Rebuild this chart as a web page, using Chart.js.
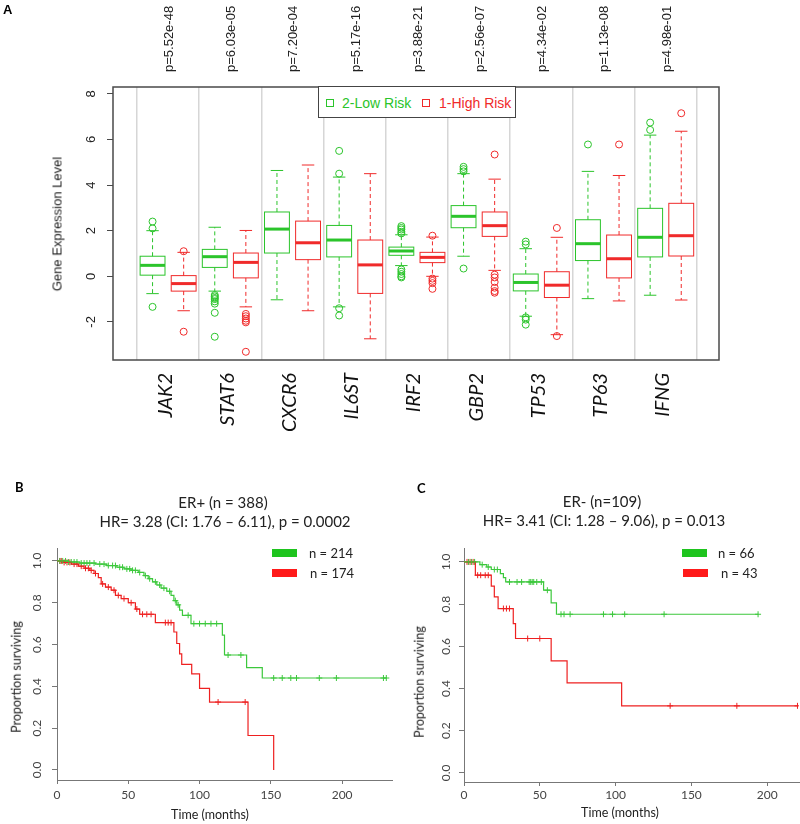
<!DOCTYPE html>
<html>
<head>
<meta charset="utf-8">
<script src="https://cdn.jsdelivr.net/npm/chart.js@4.4.0/dist/chart.umd.min.js"></script>
<style>
  body { margin: 0; background: #fff; }
  #page { position: relative; width: 800px; height: 824px; overflow: hidden; font-family: "Liberation Sans", Arial, sans-serif; }
  canvas { position: absolute; }
  .t { position: absolute; white-space: nowrap; line-height: 1; }
  .c { transform: translate(-50%, -50%); }
  .rot { transform: translate(-50%, -50%) rotate(-90deg); }
  .lato { font-family: Lato, "Noto Sans", sans-serif; }
  .sq { position: absolute; width: 6px; height: 6px; border: 1px solid; }
  .bar { position: absolute; width: 25px; height: 8px; }
</style>
</head>
<body>
<div id="page">
  <canvas id="boxCanvas" width="800" height="470" style="left:0;top:0"></canvas>
  <canvas id="kmB" width="400" height="354" style="left:0;top:470px"></canvas>
  <canvas id="kmC" width="400" height="354" style="left:400px;top:470px"></canvas>

  <!-- panel A -->
  <div class="t" style="left:3px;top:3px;font-weight:bold;font-size:13px">A</div>
  <div class="t rot" style="left:57px;top:224px;font-size:13px;color:#222">Gene Expression Level</div>
  <div style="position:absolute;left:318px;top:86px;width:196px;height:30px;border:1.5px solid #444;background:#fff"></div>
  <div class="sq" style="left:326px;top:99px;border-color:#2bc42b"></div>
  <div class="t" style="left:342px;top:96px;font-size:14px;color:#2bc42b">2-Low Risk</div>
  <div class="sq" style="left:422px;top:99px;border-color:#f02a2a"></div>
  <div class="t" style="left:439px;top:96px;font-size:14px;color:#f02a2a">1-High Risk</div>

  <!-- panel B -->
  <div class="t lato" style="left:15px;top:481px;font-weight:bold;font-size:13px">B</div>
  <div class="t lato c" style="left:223px;top:502px;font-size:15px;color:#222">ER+ (n = 388)</div>
  <div class="t lato c" style="left:225px;top:521px;font-size:15px;color:#222">HR= 3.28 (CI: 1.76 – 6.11), p = 0.0002</div>
  <div class="bar" style="left:272px;top:549px;background:#1ec41e"></div>
  <div class="t lato" style="left:309px;top:547px;font-size:13px;color:#222">n = 214</div>
  <div class="bar" style="left:272px;top:569px;background:#ff1a1a"></div>
  <div class="t lato" style="left:310px;top:567px;font-size:13px;color:#222">n = 174</div>
  <div class="t lato rot" style="left:17px;top:677px;font-size:12.5px;color:#222">Proportion surviving</div>
  <div class="t lato c" style="left:210px;top:815px;font-size:12.5px;color:#222">Time (months)</div>

  <!-- panel C -->
  <div class="t lato" style="left:417px;top:482px;font-weight:bold;font-size:13px">C</div>
  <div class="t lato c" style="left:602px;top:501px;font-size:15px;color:#222">ER- (n=109)</div>
  <div class="t lato c" style="left:604px;top:520px;font-size:15px;color:#222">HR= 3.41 (CI: 1.28 – 9.06), p = 0.013</div>
  <div class="bar" style="left:682px;top:549px;background:#1ec41e"></div>
  <div class="t lato" style="left:718px;top:547px;font-size:13px;color:#222">n = 66</div>
  <div class="bar" style="left:683px;top:569px;background:#ff1a1a"></div>
  <div class="t lato" style="left:721px;top:567px;font-size:13px;color:#222">n = 43</div>
  <div class="t lato rot" style="left:420px;top:682px;font-size:12.5px;color:#222">Proportion surviving</div>
  <div class="t lato c" style="left:620px;top:813px;font-size:12.5px;color:#222">Time (months)</div>
</div>

<script>
// ---- Panel A: gene expression boxplots ----
const genes = ['JAK2', 'STAT6', 'CXCR6', 'IL6ST', 'IRF2', 'GBP2', 'TP53', 'TP63', 'IFNG'];
const pValues = ['p=5.52e-48', 'p=6.03e-05', 'p=7.20e-04', 'p=5.17e-16', 'p=3.88e-21',
                 'p=2.56e-07', 'p=4.34e-02', 'p=1.13e-08', 'p=4.98e-01'];
const boxYTicks = [-2, 0, 2, 4, 6, 8];

// 2-Low Risk (green)
const lowMin = [-0.76, -0.65, -1.03, -1.34, 0.47, 0.88, -1.75, -0.98, -0.83];
const lowQ1  = [0.05, 0.39, 1.02, 0.85, 0.92, 2.13, -0.64, 0.69, 0.85];
const lowMed = [0.48, 0.86, 2.07, 1.59, 1.11, 2.63, -0.27, 1.43, 1.71];
const lowQ3  = [0.88, 1.18, 2.82, 2.23, 1.28, 3.10, 0.10, 2.48, 2.98];
const lowMax = [2.00, 2.15, 4.64, 4.35, 1.82, 4.50, 1.21, 4.60, 6.19];
const lowOutliers = [
  [2.1, 2.4, -1.34],
  [-0.82, -0.88, -0.95, -1.0, -1.1, -1.2, -1.6, -2.65],
  [],
  [4.5, 5.5, -1.4, -1.72],
  [1.88, 1.95, 2.05, 2.12, 2.2, 0.3, 0.2, 0.1, 0.0, -0.05],
  [4.6, 4.7, 4.8, 0.34],
  [1.4, 1.52, -1.8, -1.9, -2.12],
  [5.78],
  [6.42, 6.74]
];

// 1-High Risk (red)
const highMin = [-1.51, -1.34, -1.51, -2.74, 0.00, 0.26, -2.56, -1.08, -1.04];
const highQ1  = [-0.65, -0.07, 0.73, -0.75, 0.60, 1.75, -0.93, -0.07, 0.89];
const highMed = [-0.32, 0.61, 1.47, 0.50, 0.83, 2.22, -0.39, 0.77, 1.78];
const highQ3  = [0.03, 1.02, 2.42, 1.59, 1.05, 2.82, 0.20, 1.81, 3.20];
const highMax = [1.05, 2.01, 4.88, 4.50, 1.72, 4.26, 1.71, 4.42, 6.36];
const highOutliers = [
  [1.1, -2.43],
  [-1.65, -1.75, -1.85, -1.95, -2.02, -3.31],
  [],
  [],
  [1.78, -0.1, -0.2, -0.3, -0.55],
  [5.34, 0.07, -0.05, -0.25, -0.5, -0.65, -0.72],
  [2.12, -2.62],
  [5.78],
  [7.15]
];

// ---- Panels B / C: Kaplan-Meier curves ----
const kmXTicks = [0, 50, 100, 150, 200];
const kmYTicks = [0, 0.2, 0.4, 0.6, 0.8, 1.0];

// ER+ low risk (n = 214)
const bLowTimes = [0, 8, 16, 27, 35, 42, 47, 52, 57, 61, 64, 67, 70, 73, 77, 80, 82, 84, 86, 88, 94, 116, 117.5, 133, 144, 231];
const bLowSurv  = [1, 0.995, 0.99, 0.985, 0.978, 0.97, 0.962, 0.955, 0.945, 0.93, 0.915, 0.9, 0.885, 0.87, 0.855, 0.835, 0.81, 0.79, 0.765, 0.74, 0.70, 0.645, 0.55, 0.49, 0.44, 0.44];
const bLowCensor = [2, 4, 6, 8, 10, 12, 14, 17, 19, 21, 23, 26, 30, 33, 36, 39, 41, 44, 46, 49, 51, 53, 55, 58, 62, 65, 69, 72, 75, 79, 83, 85, 92, 96, 100, 104, 108, 112, 120, 129, 152, 158, 164, 168, 184, 196, 229, 231];
// ER+ high risk (n = 174)
const bHighTimes = [0, 5, 10, 15, 19, 23, 26, 29, 31, 34, 38, 41, 45, 50, 55, 58, 69, 82, 84, 86, 87.5, 94.5, 100, 107, 134, 152];
const bHighSurv  = [1, 0.993, 0.985, 0.975, 0.965, 0.955, 0.94, 0.92, 0.89, 0.875, 0.86, 0.835, 0.82, 0.80, 0.77, 0.745, 0.705, 0.66, 0.605, 0.555, 0.505, 0.46, 0.39, 0.325, 0.165, 0];
const bHighCensor = [2, 3, 5, 7, 9, 12, 14, 17, 20, 22, 24, 27, 32, 36, 40, 43, 47, 52, 56, 60, 63, 66, 76, 78, 80, 113, 132];

// ER- low risk (n = 66)
const cLowTimes = [0, 10.5, 15, 18, 24, 26, 27.5, 52.5, 57.5, 61, 194];
const cLowSurv  = [1, 0.987, 0.976, 0.964, 0.945, 0.926, 0.905, 0.866, 0.806, 0.752, 0.752];
const cLowCensor = [3, 5, 7, 12, 16, 20, 22, 30, 35, 38, 43, 44, 45, 46, 48, 51, 55, 64, 66, 70, 92, 98, 106, 132, 194];
// ER- high risk (n = 43)
const cHighTimes = [0, 7.5, 18, 20, 22.5, 32.5, 34, 57.5, 68, 104, 220];
const cHighSurv  = [1, 0.937, 0.885, 0.834, 0.779, 0.708, 0.637, 0.531, 0.427, 0.318, 0.318];
const cHighCensor = [2, 4, 6, 9, 11, 14, 16, 26, 28, 30, 42, 50, 136, 180, 220];

const GREEN = '#2bc42b';
const RED = '#f02a2a';
const KM_GREEN = '#3cc83c';
const KM_RED = '#ee2020';

Chart.defaults.font.family = '"Liberation Sans", Arial, sans-serif';
Chart.defaults.animation = false;

// boxes, whiskers and medians drawn through the chart scales
const boxPlugin = {
  id: 'boxplot',
  beforeDatasetsDraw(chart) {
    const { ctx, scales: { x, y } } = chart;
    const groups = [
      { color: GREEN, shift: -0.25, min: lowMin, q1: lowQ1, med: lowMed, q3: lowQ3, max: lowMax },
      { color: RED, shift: 0.25, min: highMin, q1: highQ1, med: highMed, q3: highQ3, max: highMax }
    ];
    const line = (x1, y1, x2, y2) => { ctx.beginPath(); ctx.moveTo(x1, y1); ctx.lineTo(x2, y2); ctx.stroke(); };
    ctx.save();
    groups.forEach(g => {
      ctx.strokeStyle = g.color;
      genes.forEach((name, i) => {
        const cx = x.getPixelForValue(i + 1 + g.shift);
        const half = x.getPixelForValue(i + 1 + g.shift + 0.2) - cx;
        const yMin = y.getPixelForValue(g.min[i]);
        const yQ1 = y.getPixelForValue(g.q1[i]);
        const yMed = y.getPixelForValue(g.med[i]);
        const yQ3 = y.getPixelForValue(g.q3[i]);
        const yMax = y.getPixelForValue(g.max[i]);
        ctx.lineWidth = 1;
        ctx.setLineDash([4, 3]);
        line(cx, yQ3, cx, yMax);
        line(cx, yQ1, cx, yMin);
        ctx.setLineDash([]);
        line(cx - half / 2, yMax, cx + half / 2, yMax);
        line(cx - half / 2, yMin, cx + half / 2, yMin);
        ctx.strokeRect(cx - half, yQ3, 2 * half, yQ1 - yQ3);
        ctx.lineWidth = 3;
        line(cx - half, yMed, cx + half, yMed);
      });
    });
    ctx.restore();
  },
  afterDraw(chart) {
    const { ctx, chartArea: a } = chart;
    ctx.save();
    ctx.strokeStyle = '#4a4a4a';
    ctx.lineWidth = 1.5;
    ctx.strokeRect(a.left, a.top, a.right - a.left, a.bottom - a.top);
    ctx.restore();
  }
};

function outlierPoints(lists, shift) {
  const pts = [];
  lists.forEach((vals, i) => vals.forEach(v => pts.push({ x: i + 1 + shift, y: v })));
  return pts;
}

const geneTicks = s => { s.ticks = genes.map((g, i) => ({ value: i + 1 })); };

new Chart(document.getElementById('boxCanvas'), {
  type: 'scatter',
  data: {
    datasets: [
      { label: '2-Low Risk', data: outlierPoints(lowOutliers, -0.25), borderColor: GREEN,
        backgroundColor: 'rgba(0,0,0,0)', pointRadius: 3.5, borderWidth: 1 },
      { label: '1-High Risk', data: outlierPoints(highOutliers, 0.25), borderColor: RED,
        backgroundColor: 'rgba(0,0,0,0)', pointRadius: 3.5, borderWidth: 1 }
    ]
  },
  options: {
    responsive: false,
    layout: { autoPadding: false, padding: { left: 40, right: 81, top: 0, bottom: 0 } },
    plugins: { legend: { display: false }, tooltip: { enabled: false } },
    scales: {
      x: {
        type: 'linear', position: 'bottom', min: 0.114, max: 9.857,
        afterBuildTicks: geneTicks,
        afterFit: s => { s.height = 110; },
        grid: { offset: true, drawTicks: false, color: '#d6d6d6', lineWidth: 1.5 },
        border: { display: false },
        ticks: {
          autoSkip: false, minRotation: 90, maxRotation: 90, padding: 13, labelOffset: -3, color: '#111',
          font: { family: 'Lato', style: 'italic', size: 20 },
          callback: (v, i) => genes[i]
        }
      },
      x2: {
        type: 'linear', position: 'top', min: 0.114, max: 9.857,
        afterBuildTicks: geneTicks,
        afterFit: s => { s.height = 87; },
        grid: { display: false },
        border: { display: false },
        ticks: {
          autoSkip: false, minRotation: 90, maxRotation: 90, padding: 7, labelOffset: 17, color: '#222',
          font: { size: 13 },
          callback: (v, i) => pValues[i]
        }
      },
      y: {
        min: -3.67, max: 8.30,
        afterBuildTicks: s => { s.ticks = boxYTicks.map(v => ({ value: v })); },
        afterFit: s => { s.width = 73; },
        grid: { drawOnChartArea: false, tickLength: 6, color: '#4a4a4a' },
        border: { display: false },
        ticks: { minRotation: 90, maxRotation: 90, crossAlign: 'center', padding: 10, color: '#222', font: { size: 13 } }
      }
    }
  },
  plugins: [boxPlugin]
});

// ---- KM helpers ----
function stepPoints(times, surv) {
  return times.map((t, i) => ({ x: t, y: surv[i] }));
}
function survAt(times, surv, t) {
  let s = surv[0];
  times.forEach((tt, i) => { if (tt <= t) s = surv[i]; });
  return s;
}
function censorPoints(times, surv, cens) {
  return cens.map(t => ({ x: t, y: survAt(times, surv, t) }));
}

function kmChart(id, cfg) {
  const lineDs = (pts, color) => ({ type: 'line', data: pts, borderColor: color, borderWidth: 1.2,
    stepped: true, pointRadius: 0, fill: false });
  const censDs = (pts, color) => ({ type: 'scatter', data: pts, borderColor: color, backgroundColor: color,
    pointStyle: 'cross', pointRadius: 3, borderWidth: 1 });
  return new Chart(document.getElementById(id), {
    type: 'line',
    data: {
      datasets: [
        lineDs(stepPoints(cfg.lowT, cfg.lowS), KM_GREEN),
        lineDs(stepPoints(cfg.highT, cfg.highS), KM_RED),
        censDs(censorPoints(cfg.lowT, cfg.lowS, cfg.lowC), KM_GREEN),
        censDs(censorPoints(cfg.highT, cfg.highS, cfg.highC), KM_RED)
      ]
    },
    options: {
      responsive: false,
      layout: { autoPadding: false, padding: { left: 0, right: cfg.right, top: cfg.top, bottom: 0 } },
      plugins: { legend: { display: false }, tooltip: { enabled: false } },
      scales: {
        x: {
          type: 'linear', min: 0, max: cfg.xMax,
          afterBuildTicks: s => { s.ticks = kmXTicks.map(v => ({ value: v })); },
          afterFit: s => { s.height = cfg.xAxisH; },
          grid: { drawOnChartArea: false, tickLength: 4, color: '#777' },
          border: { display: true, color: '#777', width: 1 },
          ticks: { padding: cfg.xPad, color: '#444', font: { family: 'Lato', size: 12 } }
        },
        y: {
          type: 'linear', min: cfg.yMin, max: cfg.yMax,
          afterBuildTicks: s => { s.ticks = kmYTicks.map(v => ({ value: v })); },
          afterFit: s => { s.width = cfg.yAxisW; },
          grid: { drawOnChartArea: false, tickLength: 5, color: '#777' },
          border: { display: true, color: '#777', width: 1 },
          ticks: { minRotation: 90, maxRotation: 90, crossAlign: 'center', padding: cfg.yPad,
            color: '#444', font: { family: 'Lato', size: 12 }, callback: v => v.toFixed(1) }
        }
      }
    }
  });
}

kmChart('kmB', {
  lowT: bLowTimes, lowS: bLowSurv, lowC: bLowCensor,
  highT: bHighTimes, highS: bHighSurv, highC: bHighCensor,
  right: 8, top: 78, xAxisH: 44, yAxisW: 57,
  xMax: 235, yMin: -0.048, yMax: 1.062, xPad: 4, yPad: 6.5
});

kmChart('kmC', {
  lowT: cLowTimes, lowS: cLowSurv, lowC: cLowCensor,
  highT: cHighTimes, highS: cHighSurv, highC: cHighCensor,
  right: 1, top: 78, xAxisH: 42, yAxisW: 64,
  xMax: 221, yMin: -0.043, yMax: 1.066, xPad: 2, yPad: 4.5
});
</script>
</body>
</html>
